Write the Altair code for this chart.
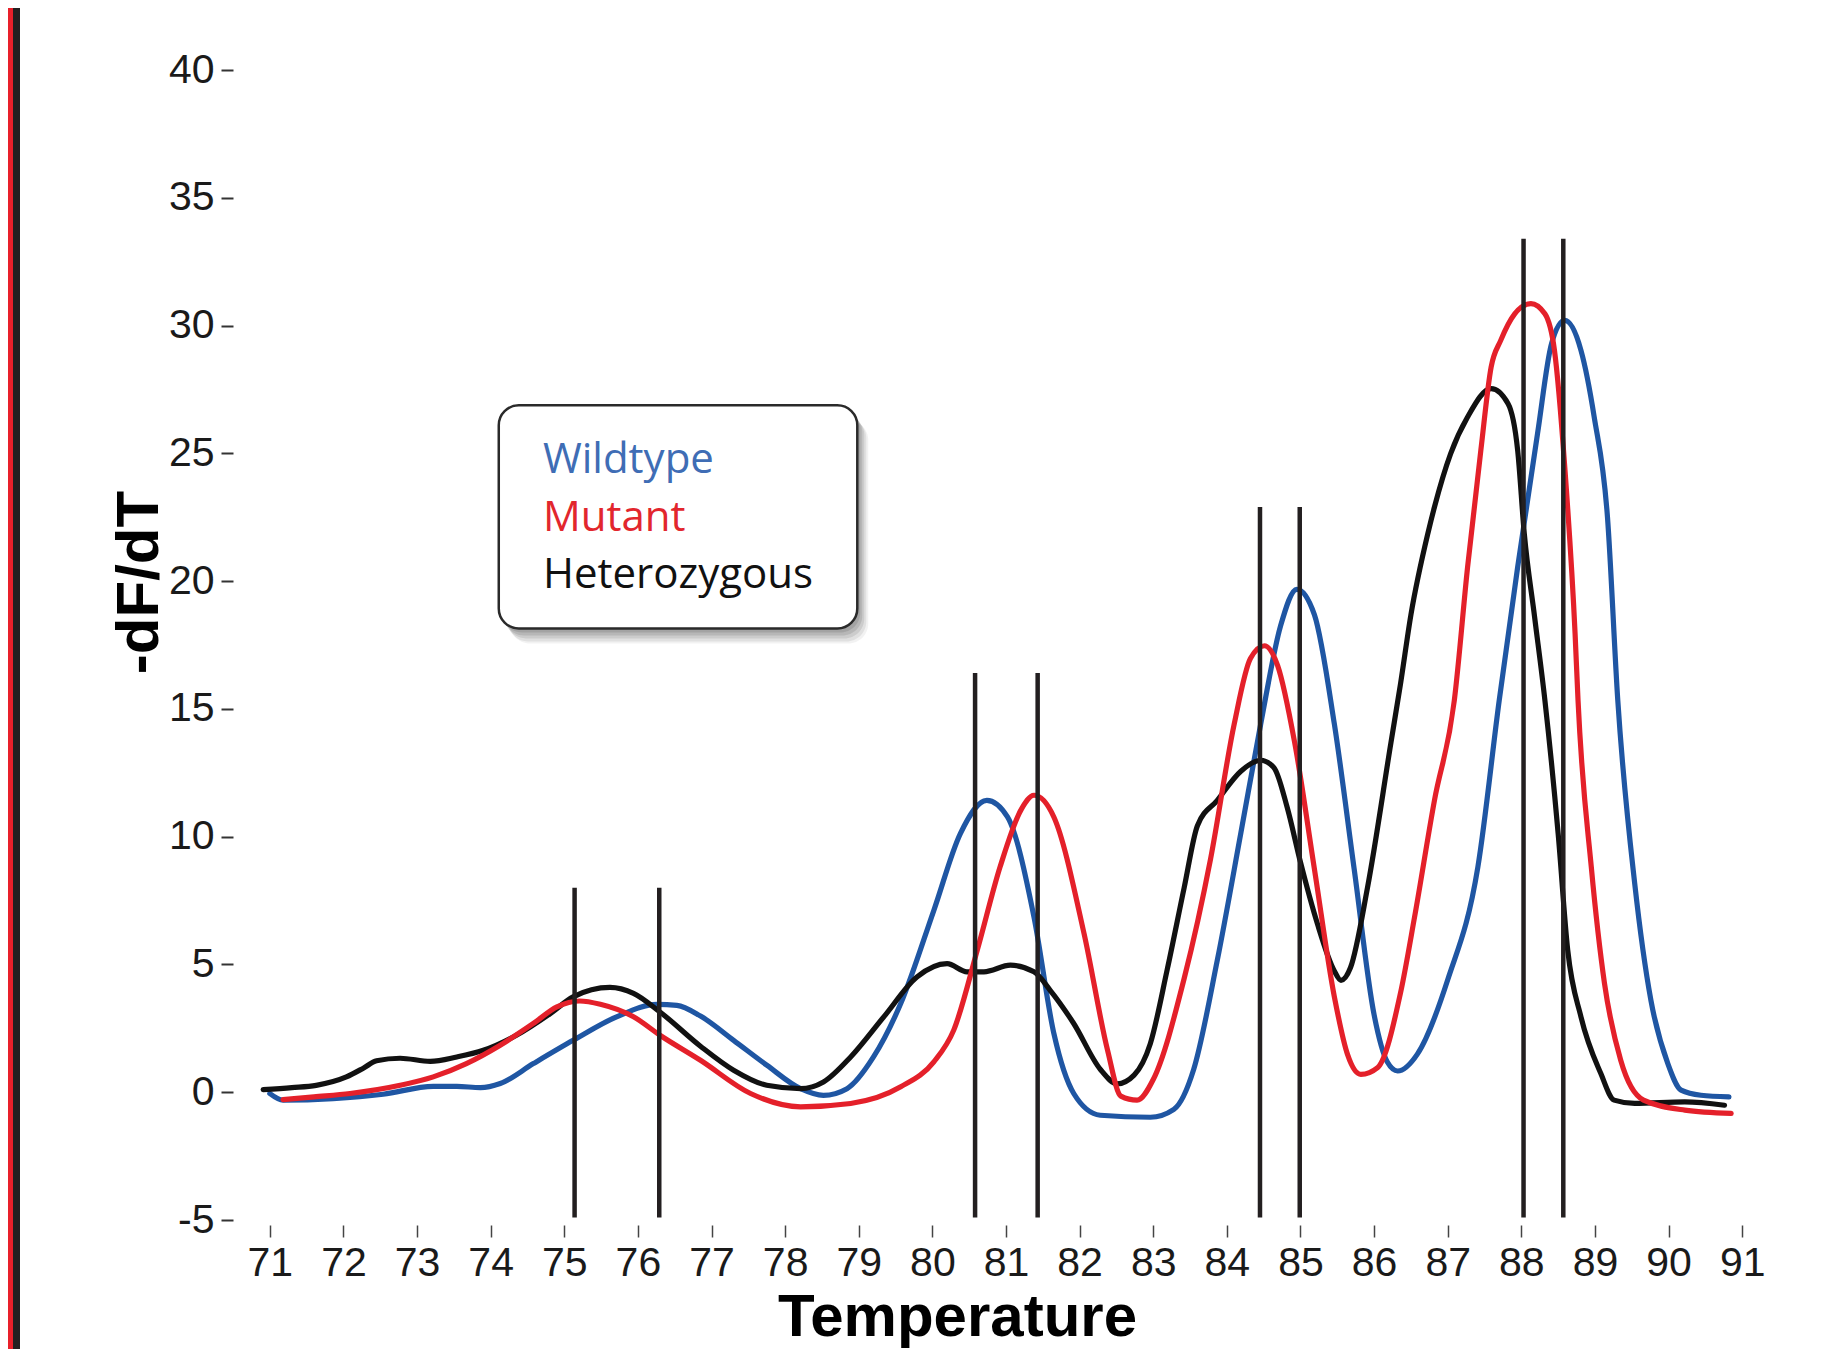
import altair as alt
import pandas as pd

# ---------------- data ----------------
wild_T = [71.0, 71.18, 71.86, 72.54, 73.22, 73.54, 73.86, 74.13, 74.58, 75.12, 75.71, 76.26, 76.53,
          76.85, 77.3, 77.75, 78.21, 78.52, 78.84, 79.2, 79.57, 80.02, 80.38, 80.74, 81.02, 81.38,
          81.65, 81.92, 82.28, 82.96, 83.28, 83.55, 83.87, 84.19, 84.46, 84.73, 84.95, 85.19, 85.46,
          85.73, 86.0, 86.18, 86.32, 86.59, 87.0, 87.41, 87.7, 87.95, 88.22, 88.41, 88.59, 88.81,
          88.99, 89.17, 89.31, 89.54, 89.76, 89.99, 90.17, 90.44, 90.82]
wild_v = [-0.05, -0.31, -0.25, -0.08, 0.23, 0.23, 0.18, 0.34, 1.12, 2.03, 2.95, 3.44, 3.4,
          2.98, 2.03, 1.06, 0.14, -0.12, 0.14, 1.38, 3.47, 7.12, 10.12, 11.42, 10.77, 6.86,
          2.3, -0.05, -0.9, -0.98, -0.67, 0.9, 5.16, 10.14, 14.41, 18.25, 19.68, 18.68, 14.41,
          8.72, 3.03, 1.18, 0.83, 1.5, 4.4, 8.82, 15.34, 20.55, 25.77, 29.29, 30.2, 29.03,
          26.42, 22.51, 15.34, 8.17, 3.6, 1.12, 0.08, -0.12, -0.18]

mut_T = [71.18, 71.6, 72.09, 72.77, 73.22, 73.67, 74.13, 74.58, 74.9, 75.21, 75.49, 75.94, 76.3,
         76.85, 77.53, 78.21, 78.89, 79.57, 80.02, 80.29, 80.61, 80.92, 81.2, 81.38, 81.65, 82.06,
         82.38, 82.56, 82.78, 83.0, 83.42, 83.78, 84.1, 84.32, 84.51, 84.69, 84.92, 85.19, 85.46,
         85.64, 85.82, 86.05, 86.36, 86.55, 86.82, 87.09, 87.27, 87.45, 87.59, 87.72, 87.91, 88.13,
         88.32, 88.45, 88.59, 88.73, 88.77, 88.95, 89.13, 89.35, 89.66, 90.22, 90.85]
mut_v = [-0.29, -0.18, -0.05, 0.27, 0.6, 1.12, 1.84, 2.69, 3.34, 3.57, 3.44, 2.95, 2.23,
         1.25, -0.05, -0.57, -0.44, 0.21, 1.19, 2.43, 5.56, 8.82, 11.03, 11.62, 10.77, 6.21,
         1.64, -0.15, -0.31, 0.5, 4.45, 9.15, 14.41, 16.97, 17.47, 16.69, 13.7, 8.72, 3.74,
         1.47, 0.7, 0.97, 3.9, 6.86, 11.42, 15.34, 20.55, 25.12, 28.38, 29.42, 30.46, 30.86,
         30.46, 29.03, 24.46, 17.95, 15.34, 8.82, 4.25, 1.25, -0.31, -0.7, -0.83]

het_T = [70.91, 71.3, 71.63, 72.04, 72.27, 72.45, 72.77, 73.18, 73.54, 73.9, 74.35, 74.81, 75.12,
         75.62, 75.94, 76.3, 76.85, 77.3, 77.75, 78.21, 78.52, 78.89, 79.34, 79.79, 80.2, 80.47,
         80.7, 81.06, 81.38, 81.6, 81.92, 82.28, 82.51, 82.74, 82.96, 83.19, 83.42, 83.6, 83.87,
         84.19, 84.46, 84.64, 84.82, 85.0, 85.23, 85.46, 85.55, 85.68, 85.91, 86.23, 86.36, 86.5,
         86.73, 86.82, 87.04, 87.27, 87.59, 87.82, 87.95, 88.04, 88.18, 88.32, 88.5, 88.63, 88.81,
         89.08, 89.26, 89.54, 90.22, 90.76]
het_v = [0.1, 0.18, 0.27, 0.6, 0.94, 1.23, 1.33, 1.21, 1.38, 1.64, 2.23, 3.08, 3.73,
         4.1, 3.87, 3.14, 1.8, 0.86, 0.27, 0.14, 0.4, 1.38, 2.95, 4.51, 5.03, 4.71,
         4.71, 4.97, 4.71, 3.99, 2.69, 0.9, 0.33, 0.67, 1.9, 4.8, 8.0, 10.43, 11.42,
         12.56, 12.99, 12.7, 11.14, 9.0, 6.59, 4.74, 4.38, 4.88, 8.0, 13.7, 16.0, 18.68,
         21.86, 22.9, 24.99, 26.42, 27.53, 26.94, 25.12, 21.86, 18.6, 15.34, 10.12, 5.56, 2.95,
         0.73, -0.31, -0.44, -0.38, -0.51]

# vertical reference lines (melting temperatures)
marker_T = [75.14, 76.29, 80.58, 81.43, 84.45, 84.99, 88.03, 88.57]
marker_top = [8.0, 8.0, 16.4, 16.4, 22.9, 22.9, 33.4, 33.4]
marker_bottom = [-4.9] * 8

# legend box (data units) and entries
legend_box = {"x": [74.11], "x2": [78.98], "y": [26.88], "y2": [18.15]}
legend_labels = ["Wildtype", "Mutant", "Heterozygous"]
legend_colors = ["#3f6db5", "#e2262d", "#111111"]
legend_y = [24.22, 21.95, 19.75]
legend_x = [74.71, 74.71, 74.71]

x_ticks = list(range(71, 92))
y_ticks = list(range(-5, 41, 5))

X_DOMAIN = [70.5, 91.5]
Y_DOMAIN = [-5, 40]

# ---------------- chart ----------------
xs = alt.Scale(domain=X_DOMAIN, nice=False, zero=False)
ys = alt.Scale(domain=Y_DOMAIN, nice=False, zero=False)

x_axis = alt.Axis(values=x_ticks, labelExpr="'' + datum.value", domain=False, grid=False, offset=5,
                  tickSize=12, tickWidth=1.5, tickColor="#444444", labelPadding=6,
                  labelFont="Liberation Sans", labelFontSize=41, labelColor="#1a1a1a",
                  title="Temperature", titleFont="Liberation Sans", titleFontWeight="bold",
                  titleFontSize=60, titleColor="#000000", titleX=724, titleY=110,
                  titleAlign="center", titleBaseline="alphabetic")
y_axis = alt.Axis(values=y_ticks, labelExpr="'' + datum.value", domain=False, grid=False,
                  tickSize=12, tickWidth=2, tickColor="#333333", labelPadding=7,
                  labelFont="Liberation Sans", labelFontSize=41, labelColor="#1a1a1a",
                  title="-dF/dT", titleFont="Liberation Sans", titleFontWeight="bold",
                  titleFontSize=60, titleColor="#000000", titleAngle=270,
                  titleX=-76, titleY=512, titleAlign="center", titleBaseline="alphabetic")


def X(field):
    return alt.X(field, type="quantitative", scale=xs, axis=x_axis)


def Y(field):
    return alt.Y(field, type="quantitative", scale=ys, axis=y_axis)


def curve(T, v, color):
    df = pd.DataFrame({"T": T, "v": v})
    return alt.Chart(df).mark_line(color=color, strokeWidth=5.2, interpolate="monotone",
                                   strokeCap="round", strokeJoin="round").encode(
        x=X("T"), y=Y("v"))


blue = curve(wild_T, wild_v, "#1f56a3")
black = curve(het_T, het_v, "#111111")
red = curve(mut_T, mut_v, "#e4202a")

markers_df = pd.DataFrame({"T": marker_T, "top": marker_top, "bottom": marker_bottom})
markers = alt.Chart(markers_df).mark_rule(color="#231f20", strokeWidth=4.5).encode(
    x=X("T"), y=Y("top"), y2="bottom:Q",
)

box_df = pd.DataFrame(legend_box)
shadows = []
for dx, dy, op in [(3, 4, 0.10), (5, 7, 0.10), (7, 10, 0.09), (9, 13, 0.07), (11, 15, 0.05)]:
    shadows.append(
        alt.Chart(box_df).mark_rect(cornerRadius=20, fill="#000000", opacity=op,
                                    xOffset=dx, x2Offset=dx, yOffset=dy, y2Offset=dy).encode(
            x=X("x"), x2="x2:Q", y=Y("y"), y2="y2:Q")
    )
box = alt.Chart(box_df).mark_rect(cornerRadius=20, fill="#ffffff", stroke="#2a2a2a",
                                  strokeWidth=2.5).encode(
    x=X("x"), x2="x2:Q", y=Y("y"), y2="y2:Q")

leg_df = pd.DataFrame({"label": legend_labels, "x": legend_x, "y": legend_y, "c": legend_colors})
leg_text = alt.Chart(leg_df).mark_text(font="Open Sans", fontSize=42, align="left",
                                       baseline="alphabetic").encode(
    x=X("x"), y=Y("y"),
    text="label:N",
    color=alt.Color("c:N", scale=None, legend=None),
)

# left page border (red and dark strip)
border_df = pd.DataFrame({"k": [0]})
red_strip = alt.Chart(border_df).mark_rect(color="#e8202a").encode(
    x=alt.value(-225), x2=alt.value(-220), y=alt.value(-62), y2=alt.value(1290))
dark_strip = alt.Chart(border_df).mark_rect(color="#231f20").encode(
    x=alt.value(-220), x2=alt.value(-213), y=alt.value(-62), y2=alt.value(1290))

chart = alt.layer(
    blue, *shadows, box, leg_text, black, red, markers, red_strip, dark_strip
).properties(
    width=1546, height=1150,
    autosize=alt.AutoSizeParams(type="none"),
    padding={"left": 225, "top": 62, "right": 55, "bottom": 129},
    background="#ffffff",
).configure_view(stroke=None)

chart.save("out.html", embed_options={"renderer": "svg", "actions": False})
